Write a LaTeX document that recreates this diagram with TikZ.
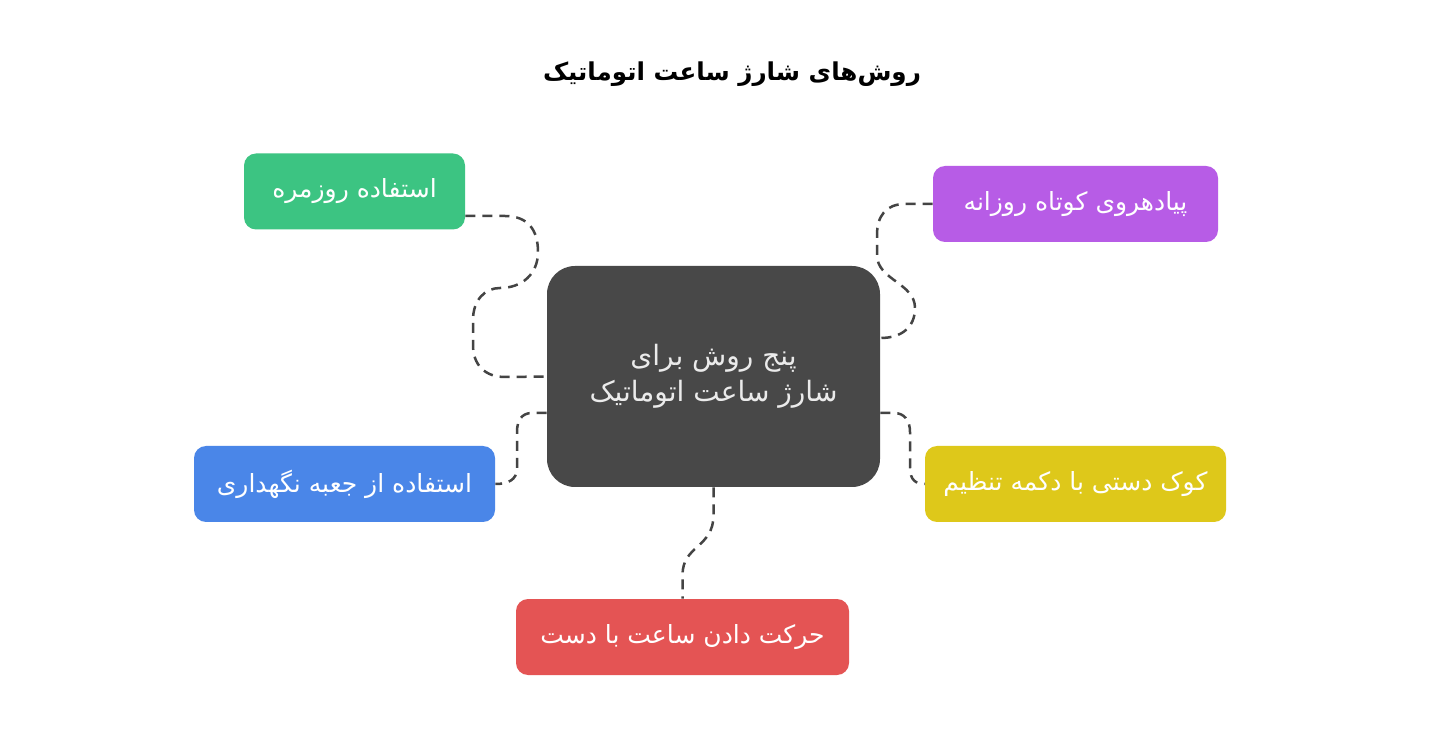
\documentclass[tikz,border=0pt]{standalone}
\usepackage{fontspec}
\usetikzlibrary{calc}
\newfontfamily\arabicfont[Script=Arabic]{DejaVu Sans}
\TeXXeTstate=1
\definecolor{cgreen}{RGB}{60,196,130}
\definecolor{cpurple}{RGB}{183,92,230}
\definecolor{cblue}{RGB}{74,134,232}
\definecolor{cyellow}{RGB}{222,200,26}
\definecolor{cred}{RGB}{228,84,84}
\definecolor{cdark}{RGB}{72,72,72}
\definecolor{cline}{RGB}{68,68,68}
\begin{document}
\begin{tikzpicture}[x=0.5pt,y=-0.5pt,
  box/.style={rounded corners=6pt, inner sep=0pt, text=white, font=\arabicfont\fontsize{12.5}{15}\selectfont, minimum height=38pt},
  hub/.style={rounded corners=14pt, fill=cdark, inner sep=0pt, text=white!92!black, align=center, font=\arabicfont\fontsize{14}{18}\selectfont, minimum width=166.5pt, minimum height=110.5pt},
  conn/.style={draw=cline, line width=1.25pt, dash pattern=on 5pt off 3.5pt}]
\useasboundingbox[fill=white] (0,0) rectangle (1430,748);
\node[font=\arabicfont\bfseries\fontsize{12.3}{15}\selectfont] (t) at (732,74) {\beginR روش‌های شارژ ساعت اتوماتیک\endR};
\node[hub] (c) at (713.5,376.5) {\beginR پنج روش برای\endR\\\beginR شارژ ساعت اتوماتیک\endR};
\node[box, fill=cgreen, minimum width=110.5pt] (g) at (354.5,191.5) {\beginR استفاده روزمره\endR};
\node[box, fill=cpurple, minimum width=142.5pt] (p) at (1075.5,204) {\beginR پیادهروی کوتاه روزانه\endR};
\node[box, fill=cblue, minimum width=150.5pt] (b) at (344.5,484) {\beginR استفاده از جعبه نگهداری\endR};
\node[box, fill=cyellow, minimum width=150.5pt] (y) at (1075.5,484) {\beginR کوک دستی با دکمه تنظیم\endR};
\node[box, fill=cred, minimum width=166.5pt] (r) at (682.5,637) {\beginR حرکت دادن ساعت با دست\endR};
\draw[conn] ($(g.east)+(0,24.5)$) -- (505,216) .. controls (528,216) and (538,230) .. (538,252) .. controls (538,274) and (522,288) .. (500,288) .. controls (485,288) and (473,300) .. (473,320) -- (473,345) .. controls (473,365) and (485,377) .. (505,377) -- (c.west);
\draw[conn] (p.west) -- (905,204) .. controls (886,204) and (877,216) .. (877,235) -- (877,255) .. controls (877,280) and (915,283) .. (915,308) .. controls (915,327) and (902,338) .. ($(c.east)+(0,-38.5)$);
\draw[conn] ($(c.west)+(0,36.5)$) -- (532,413) .. controls (522,413) and (517,420) .. (517,432) -- (517,468) .. controls (517,480) and (508,484) .. (b.east);
\draw[conn] ($(c.east)+(0,36.5)$) -- (894,413) .. controls (904,413) and (910,420) .. (910,432) -- (910,468) .. controls (910,480) and (916,484) .. (y.west);
\draw[conn] (c.south) -- (713.5,515) .. controls (713.5,548) and (682.5,545) .. (682.5,575) -- (r.north);
\end{tikzpicture}
\end{document}
